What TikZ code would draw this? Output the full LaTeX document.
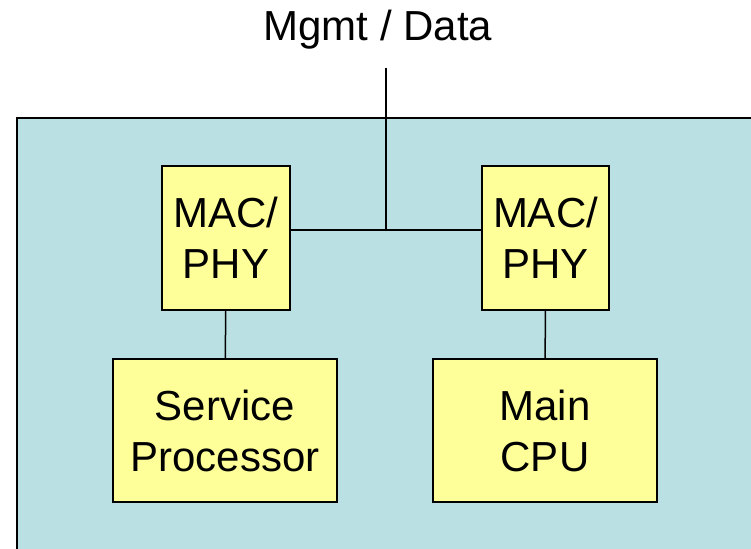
\documentclass[tikz,border=0pt]{standalone}
\usepackage{fontspec}
\setmainfont{Liberation Sans}
\definecolor{boardteal}{RGB}{187,224,227}
\definecolor{chipyellow}{RGB}{255,255,153}
\def\chipfont{\fontsize{42}{51}\selectfont}

\begin{document}
\begin{tikzpicture}[x=1pt,y=-1pt,
    chip/.style={draw=black, fill=chipyellow, line width=1.5pt, align=center,
        inner sep=0pt, font=\chipfont},
    wire/.style={line width=1.5pt}]
        \useasboundingbox (0,0) rectangle (751,548);
        \clip (0,0) rectangle (751,548);
        % board
        \filldraw[fill=boardteal, draw=black, line width=2pt] (17,118) rectangle (780,580);
        % chips
        \node[chip, minimum width=128pt, minimum height=144pt] (macsp) at (226,238) {MAC/\\PHY};
        \node[chip, minimum width=127pt, minimum height=144pt] (maccpu) at (545.5,238) {MAC/\\PHY};
        \node[chip, minimum width=224pt, minimum height=143pt] (sp) at (225,430.5) {Service\\Processor};
        \node[chip, minimum width=224pt, minimum height=143pt] (cpu) at (545,430.5) {Main\\CPU};
        % uplink
        \node[font=\chipfont] (mgmt) at (378,30) {Mgmt / Data};
        \coordinate (feed) at (386,68);
        \coordinate (tap) at (386,230);
        \draw[wire] (macsp.east |- tap) -- (maccpu.west |- tap);
        \draw[wire] (feed) -- (tap);
        \draw[wire] (macsp) -- (sp);
        \draw[wire] (maccpu) -- (cpu);
    \end{tikzpicture}
\end{document}
